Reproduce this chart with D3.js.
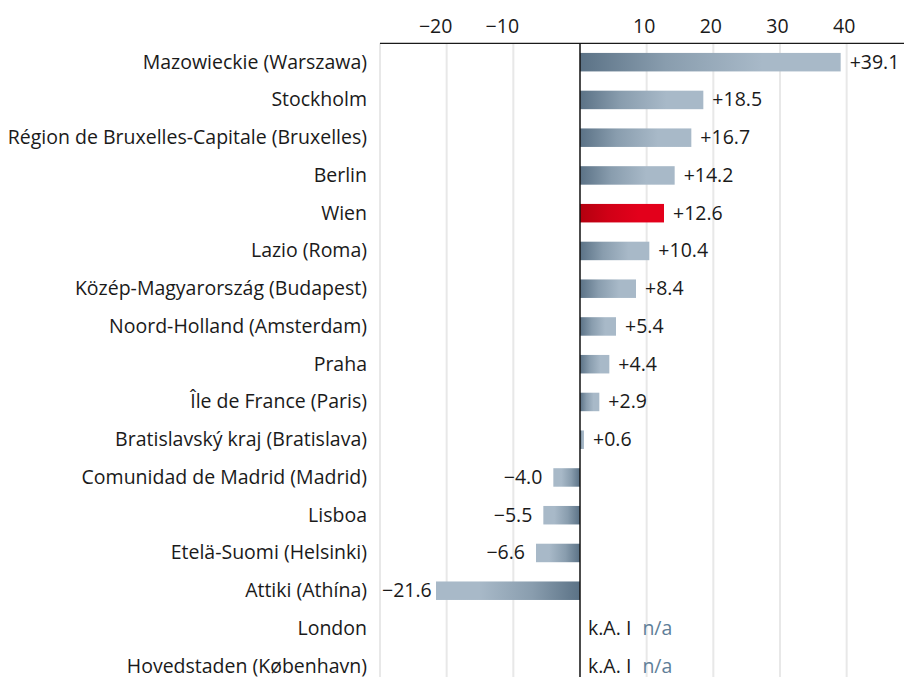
<!DOCTYPE html>
<html>
<head>
<meta charset="utf-8">
<script src="https://cdn.jsdelivr.net/npm/d3@7"></script>
<style>
  html, body { margin: 0; padding: 0; background: #fff; }
  svg { display: block; font-family: "Open Sans", sans-serif; }
</style>
</head>
<body>
<svg id="chart" width="904" height="677"></svg>
<script>
// ---- data ----
const regions = [
  "Mazowieckie (Warszawa)",
  "Stockholm",
  "Région de Bruxelles-Capitale (Bruxelles)",
  "Berlin",
  "Wien",
  "Lazio (Roma)",
  "Közép-Magyarország (Budapest)",
  "Noord-Holland (Amsterdam)",
  "Praha",
  "Île de France (Paris)",
  "Bratislavský kraj (Bratislava)",
  "Comunidad de Madrid (Madrid)",
  "Lisboa",
  "Etelä-Suomi (Helsinki)",
  "Attiki (Athína)",
  "London",
  "Hovedstaden (København)"
];
const values = [39.1, 18.5, 16.7, 14.2, 12.6, 10.4, 8.4, 5.4, 4.4, 2.9, 0.6, -4.0, -5.5, -6.6, -21.6, null, null];
const highlight = ["Wien"];
const gridTicks = [-30, -20, -10, 10, 20, 30, 40];
const labelTicks = [-20, -10, 10, 20, 30, 40];
const naLabelDe = "k.A. I";
const naLabelEn = "n/a";

// ---- layout ----
const W = 904, H = 677;
const svg = d3.select("#chart");
const fontSize = 19.5;

const x = d3.scaleLinear().domain([-30, 48.6]).range([380, 904]);
const y = d3.scaleBand().domain(regions).range([43.3, 685.1]).paddingInner(0.51).paddingOuter(0.255);
const axisY = 43.3;

const fmt = v => (v > 0 ? "+" : "\u2212") + d3.format(".1f")(Math.abs(v));
const tickFmt = v => (v < 0 ? "\u2212" : "") + Math.abs(v);

// gradients
const defs = svg.append("defs");
function grad(id, dark, light, reverse) {
  const g = defs.append("linearGradient").attr("id", id)
    .attr("x1", reverse ? 1 : 0).attr("x2", reverse ? 0 : 1).attr("y1", 0).attr("y2", 0);
  g.append("stop").attr("offset", "0%").attr("stop-color", dark);
  g.append("stop").attr("offset", "33%").attr("stop-color", d3.interpolateRgb(dark, light)(0.6));
  g.append("stop").attr("offset", "70%").attr("stop-color", light);
  g.append("stop").attr("offset", "100%").attr("stop-color", light);
}
grad("gPos", "#5b7286", "#a8b9c8", false);
grad("gNeg", "#5b7286", "#a8b9c8", true);
grad("gRedPos", "#b3000f", "#e3001b", false);

// gridlines
svg.append("g").selectAll("line").data(gridTicks).join("line")
  .attr("x1", d => x(d)).attr("x2", d => x(d))
  .attr("y1", axisY).attr("y2", H)
  .attr("stroke", "#e8e8e8").attr("stroke-width", 2);

// top axis line
svg.append("line")
  .attr("x1", x(-30)).attr("x2", W).attr("y1", axisY).attr("y2", axisY)
  .attr("stroke", "#1a1a1a").attr("stroke-width", 1.3);

// tick labels
svg.append("g").selectAll("text").data(labelTicks).join("text")
  .attr("x", d => x(d) + (d < 0 ? -11 : -2.5))
  .attr("y", 33.3)
  .attr("text-anchor", "middle")
  .attr("font-size", fontSize)
  .attr("fill", "#1a1a1a")
  .text(tickFmt);

// bars
const rows = regions.map((r, i) => ({ region: r, value: values[i] }));
svg.append("g").selectAll("rect").data(rows.filter(d => d.value !== null)).join("rect")
  .attr("x", d => x(Math.min(0, d.value)))
  .attr("width", d => Math.abs(x(d.value) - x(0)))
  .attr("y", d => y(d.region))
  .attr("height", y.bandwidth())
  .attr("fill", d => highlight.includes(d.region) ? "url(#gRedPos)" : (d.value >= 0 ? "url(#gPos)" : "url(#gNeg)"));

// zero line
svg.append("line")
  .attr("x1", x(0)).attr("x2", x(0)).attr("y1", axisY).attr("y2", H)
  .attr("stroke", "#111").attr("stroke-width", 1.5);

// category labels
svg.append("g").selectAll("text").data(rows).join("text")
  .attr("x", 367)
  .attr("y", d => y(d.region) + y.bandwidth() / 2)
  .attr("dy", "0.33em")
  .attr("text-anchor", "end")
  .attr("font-size", fontSize)
  .attr("fill", "#1a1a1a")
  .text(d => d.region);

// value labels
const vl = svg.append("g").selectAll("text").data(rows).join("text")
  .attr("y", d => y(d.region) + y.bandwidth() / 2)
  .attr("dy", "0.33em")
  .attr("font-size", fontSize)
  .attr("fill", "#1a1a1a");

vl.each(function(d) {
  const t = d3.select(this);
  if (d.value === null) {
    t.attr("x", x(0) + 8).attr("text-anchor", "start");
    t.append("tspan").text(naLabelDe + " ");
    t.append("tspan").attr("fill", "#5f7f99").attr("dx", 6).text(naLabelEn);
  } else if (d.value >= 0) {
    t.attr("x", x(d.value) + 9).attr("text-anchor", "start").text(fmt(d.value));
  } else {
    t.attr("text-anchor", "end").attr("x", x(d.value) - 11).text(fmt(d.value));
    const len = this.getComputedTextLength();
    if (x(d.value) - 11 - len < 382) {
      t.attr("text-anchor", "start").attr("x", 382);
    }
  }
});
</script>
</body>
</html>
